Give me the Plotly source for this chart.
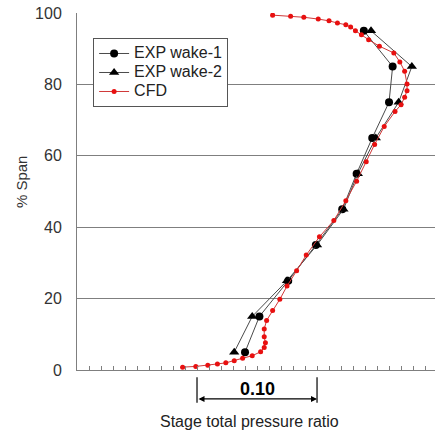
import plotly.graph_objects as go

# Stage total pressure ratio (relative scale) versus % span
span_exp = [95, 85, 75, 65, 55, 45, 35, 25, 15, 5]
pr_wake1 = [0.239, 0.263, 0.260, 0.246, 0.233, 0.221, 0.199, 0.176, 0.152, 0.140]
pr_wake2 = [0.245, 0.279, 0.268, 0.249, 0.234, 0.222, 0.200, 0.175, 0.146, 0.131]

span_cfd = [99.4, 99.1, 98.8, 98.3, 97.8, 97.2, 96.7, 96.1, 95.0, 93.9,
            92.5, 90.7, 88.8, 86.3, 83.7, 80.1, 78.2, 76.4, 74.3, 72.4,
            68.2, 63.2, 58.3, 52.9, 47.4, 41.9, 37.3, 32.2, 27.8, 23.5,
            19.8, 16.7, 13.9, 11.5, 9.3, 7.6, 6.3, 5.1, 4.0, 3.3,
            2.6, 2.0, 1.7, 1.3, 1.0, 0.8]
pr_cfd = [0.163, 0.178, 0.189, 0.201, 0.210, 0.217, 0.224, 0.228, 0.232, 0.237,
          0.243, 0.252, 0.264, 0.269, 0.273, 0.275, 0.275, 0.273, 0.270, 0.265,
          0.256, 0.248, 0.241, 0.233, 0.224, 0.214, 0.202, 0.191, 0.183, 0.175,
          0.169, 0.163, 0.158, 0.156, 0.156, 0.157, 0.156, 0.153, 0.146, 0.138,
          0.131, 0.124, 0.117, 0.109, 0.099, 0.088]

series_names = ["EXP wake-1", "EXP wake-2", "CFD"]
y_ticks = [0, 20, 40, 60, 80, 100]
scale_bar = [0.10, 0.20]   # reference length of 0.10 in pressure ratio
scale_label = "0.10"

FONT = "Liberation Sans, Arial, sans-serif"
GRAY = "#7f7f7f"


def legend_label(text):
    # larger glyphs than the legend's row pitch so the entries sit close together
    return '<span style="font-size:16px">' + text + "</span>"


fig = go.Figure()
fig.add_trace(go.Scatter(
    x=pr_wake1, y=span_exp, mode="lines+markers", name=legend_label(series_names[0]),
    line=dict(color="#4a4a4a", width=1),
    marker=dict(symbol="circle", size=8, color="black")))
fig.add_trace(go.Scatter(
    x=pr_wake2, y=span_exp, mode="lines+markers", name=legend_label(series_names[1]),
    line=dict(color="#4a4a4a", width=1),
    marker=dict(symbol="triangle-up", size=9, color="black")))
fig.add_trace(go.Scatter(
    x=pr_cfd, y=span_cfd, mode="lines+markers", name=legend_label(series_names[2]),
    line=dict(color="#d03838", width=1),
    marker=dict(symbol="circle", size=5, color="#e81010")))

# Scale bar under the x axis
for xv in scale_bar:
    fig.add_shape(type="line", xref="x", yref="paper",
                  x0=xv, x1=xv, y0=-0.020, y1=-0.092,
                  line=dict(color="black", width=1.2))
fig.add_annotation(xref="x", yref="paper", x=scale_bar[1], y=-0.081,
                   axref="x", ayref="pixel", ax=scale_bar[0], ay=0,
                   text="", showarrow=True, arrowhead=2, arrowside="end+start",
                   arrowsize=1, arrowwidth=1.2, arrowcolor="black")
fig.add_annotation(xref="x", yref="paper",
                   x=(scale_bar[0] + scale_bar[1]) / 2, y=-0.053,
                   xanchor="center", yanchor="middle",
                   text="<b>" + scale_label + "</b>", showarrow=False,
                   font=dict(family=FONT, size=18, color="black"))

fig.add_annotation(xref="paper", yref="paper", x=0.483, y=-0.145,
                   xanchor="center", yanchor="middle",
                   text="Stage total pressure ratio", showarrow=False,
                   font=dict(family=FONT, size=16, color="#222"))
fig.add_annotation(xref="paper", yref="paper", x=-0.153, y=0.527,
                   xanchor="center", yanchor="middle",
                   text="% Span", textangle=-90, showarrow=False,
                   font=dict(family=FONT, size=15, color="#333"))

fig.update_layout(
    width=435, height=434,
    margin=dict(l=77, r=0, t=13, b=64),
    paper_bgcolor="white", plot_bgcolor="white",
    font=dict(family=FONT, size=15, color="#333"),
    showlegend=True,
    legend=dict(x=0.045, y=0.93, xanchor="left", yanchor="top",
                bgcolor="white", bordercolor="#555", borderwidth=1,
                font=dict(family=FONT, size=11.5, color="#222"),
                tracegroupgap=0),
    xaxis=dict(range=[0, 0.2983], showgrid=False, zeroline=False,
               showline=True, linecolor=GRAY, linewidth=1,
               ticks="inside", tickcolor=GRAY, ticklen=4, dtick=0.01,
               tick0=0, showticklabels=False),
    yaxis=dict(range=[0, 100], tickvals=y_ticks, showgrid=True,
               gridcolor=GRAY, gridwidth=1, zeroline=False,
               showline=True, linecolor=GRAY, linewidth=1,
               ticks="", ticklabelstandoff=11,
               tickfont=dict(family=FONT, size=16, color="#333")),
)

fig.write_html("out.html")
